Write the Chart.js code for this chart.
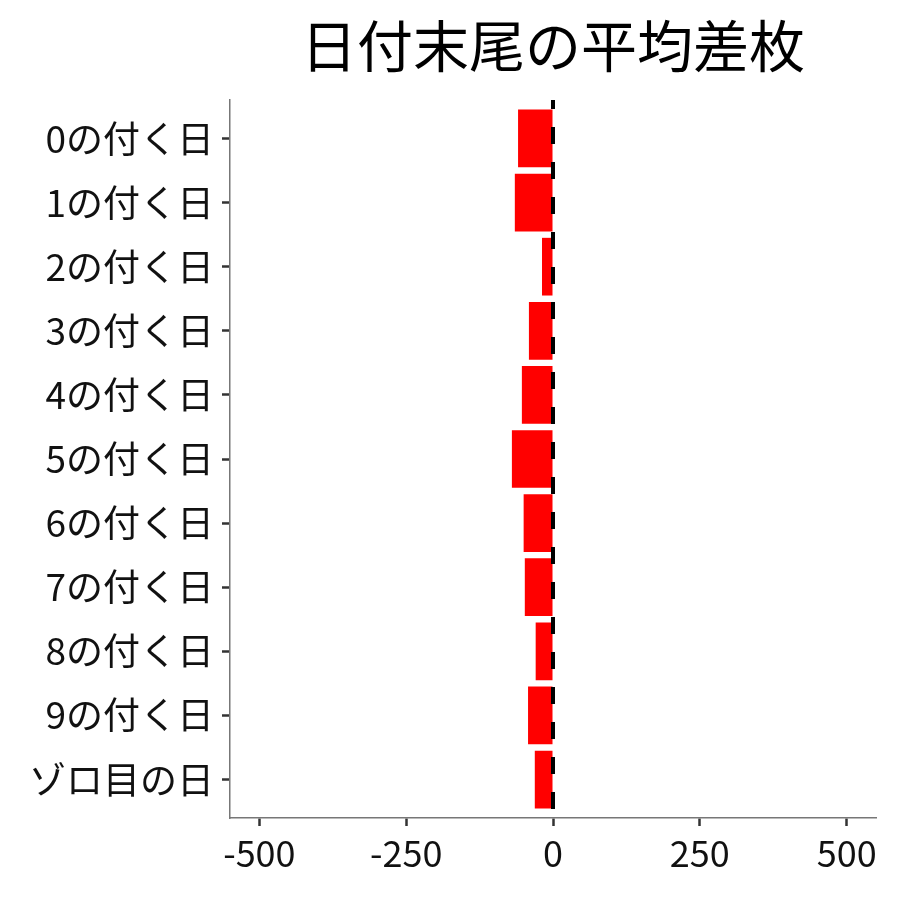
<!DOCTYPE html>
<html lang="ja">
<head>
    <meta charset="UTF-8">
    <title>日付末尾の平均差枚</title>
    <script src="https://cdn.jsdelivr.net/npm/chart.js"></script>
    <style>
        body { margin: 0; background: #fff; }
        #wrap { width: 900px; height: 900px; }
    </style>
</head>
<body>
    <div id="wrap"><canvas id="barChart" width="900" height="900"></canvas></div>

    <script>
        // data
        const categories = ["0の付く日", "1の付く日", "2の付く日", "3の付く日", "4の付く日",
                            "5の付く日", "6の付く日", "7の付く日", "8の付く日", "9の付く日", "ゾロ目の日"];
        const diffValues = [-59.5, -65, -18.7, -41, -53, -70, -50, -48, -29.5, -42.5, -31];
        const xTicks = [-500, -250, 0, 250, 500];
        const titleText = "日付末尾の平均差枚";

        const font = "'Noto Sans CJK JP', 'Noto Sans', sans-serif";

        // dashed reference line at x = 0
        const zeroLine = {
            id: "zeroLine",
            afterDatasetsDraw(chart) {
                const ctx = chart.ctx;
                const area = chart.chartArea;
                const x = chart.scales.x.getPixelForValue(0);
                ctx.save();
                ctx.strokeStyle = "#000";
                ctx.lineWidth = 4;
                ctx.setLineDash([17, 18]);
                ctx.lineDashOffset = 8;
                ctx.beginPath();
                ctx.moveTo(x, area.top);
                ctx.lineTo(x, area.bottom);
                ctx.stroke();
                ctx.restore();
            }
        };

        // title centred over the plot area
        const plotTitle = {
            id: "plotTitle",
            afterDraw(chart) {
                const ctx = chart.ctx;
                const area = chart.chartArea;
                ctx.save();
                ctx.font = "56px " + font;
                ctx.fillStyle = "#000";
                ctx.textAlign = "center";
                ctx.textBaseline = "middle";
                ctx.fillText(titleText, (area.left + area.right) / 2, 46);
                ctx.restore();
            }
        };

        const data = diffValues.map((v, i) => ({ x: v, y: i }));

        new Chart(document.getElementById("barChart").getContext("2d"), {
            type: "bar",
            data: {
                datasets: [{
                    data: data,
                    backgroundColor: "#ff0000",
                    borderWidth: 0,
                    barPercentage: 0.9,
                    categoryPercentage: 1
                }]
            },
            options: {
                indexAxis: "y",
                responsive: false,
                animation: false,
                layout: { padding: { top: 100, right: 24, bottom: 0, left: 0 } },
                plugins: {
                    legend: { display: false },
                    tooltip: { enabled: false },
                    title: { display: false }
                },
                scales: {
                    x: {
                        type: "linear",
                        min: -550,
                        max: 550,
                        afterBuildTicks: s => { s.ticks = xTicks.map(v => ({ value: v })); },
                        afterFit: s => { s.height = 82; },
                        grid: {
                            drawOnChartArea: false,
                            tickLength: 8,
                            tickWidth: 2.5,
                            tickColor: "#333"
                        },
                        border: { display: true, color: "#777", width: 1.5 },
                        ticks: {
                            color: "#111",
                            padding: 6,
                            maxRotation: 0,
                            font: { family: font, size: 36 },
                            callback: v => String(v)
                        }
                    },
                    y: {
                        type: "linear",
                        reverse: true,
                        offset: false,
                        min: -0.6,
                        max: categories.length - 1 + 0.6,
                        afterBuildTicks: s => { s.ticks = categories.map((c, i) => ({ value: i })); },
                        afterFit: s => { s.width = 230; },
                        grid: {
                            offset: false,
                            drawOnChartArea: false,
                            tickLength: 8,
                            tickWidth: 2.5,
                            tickColor: "#333"
                        },
                        border: { display: true, color: "#777", width: 1.5 },
                        ticks: {
                            color: "#111",
                            padding: 8,
                            font: { family: font, size: 37 },
                            callback: v => categories[v]
                        }
                    }
                }
            },
            plugins: [zeroLine, plotTitle]
        });
    </script>
</body>
</html>
